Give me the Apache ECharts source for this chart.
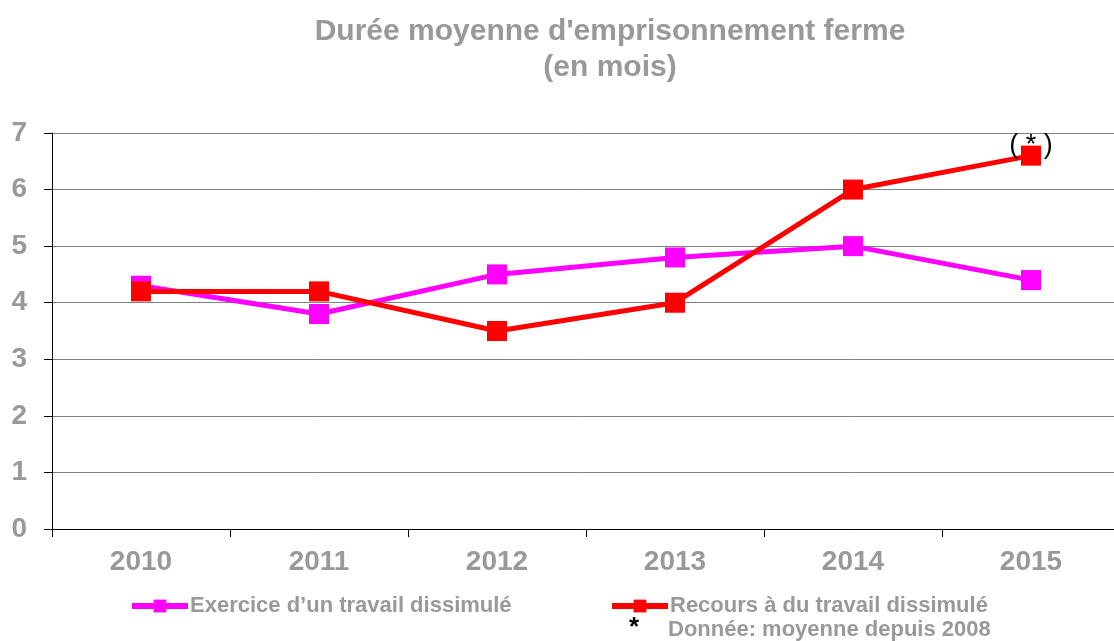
<!DOCTYPE html>
<html>
<head>
<meta charset="utf-8">
<script src="https://cdn.jsdelivr.net/npm/echarts@6/dist/echarts.min.js"></script>
<style>
  html, body { margin: 0; padding: 0; background: #fff; }
  #chart { width: 1114px; height: 641px; }
</style>
</head>
<body>
<div id="chart"></div>
<script>
// data
var years = ['2010', '2011', '2012', '2013', '2014', '2015'];
var exerciceValues = [4.3, 3.8, 4.5, 4.8, 5.0, 4.4];
var recoursValues = [4.2, 4.2, 3.5, 4.0, 6.0, 6.6];
var yTicks = [0, 1, 2, 3, 4, 5, 6, 7];

var grey = '#999999';
var font = 'Liberation Sans, Arial, sans-serif';

var dom = document.getElementById('chart');
var myChart = echarts.init(dom, null, { renderer: 'canvas' });

// last red point carries the "(*)" note
var recoursData = recoursValues.map(function (v, i) {
  if (i === recoursValues.length - 1) {
    return {
      value: v,
      label: {
        show: true,
        position: 'inside',
        offset: [0, -10],
        formatter: '( * )',
        color: '#000',
        fontSize: 27,
        fontFamily: font
      }
    };
  }
  return v;
});

var legendText = { color: grey, fontSize: 22, fontWeight: 'bold', fontFamily: font, padding: [0, 0, 0, -3] };

var option = {
  animation: false,
  title: {
    text: "Durée moyenne d'emprisonnement ferme\n(en mois)",
    left: 605,
    textAlign: 'center',
    top: 9,
    textStyle: {
      color: grey,
      fontSize: 30,
      fontWeight: 'bold',
      fontFamily: font,
      lineHeight: 36
    }
  },
  legend: [
    {
      left: 124,
      top: 590,
      data: ['Exercice d\u2019un travail dissimulé'],
      itemWidth: 56,
      itemHeight: 16,
      itemGap: 4,
      lineStyle: { width: 6 },
      textStyle: legendText
    },
    {
      left: 604,
      top: 590,
      data: ['Recours à du travail dissimulé'],
      itemWidth: 56,
      itemHeight: 16,
      itemGap: 4,
      lineStyle: { width: 6 },
      textStyle: legendText
    }
  ],
  graphic: [
    {
      type: 'text',
      left: 629,
      top: 615,
      style: { text: '*', fill: '#000', fontSize: 26, fontWeight: 'bold', fontFamily: font }
    },
    {
      type: 'text',
      left: 668,
      top: 619,
      style: { text: 'Donnée: moyenne depuis 2008', fill: grey, fontSize: 22, fontWeight: 'bold', fontFamily: font }
    }
  ],
  grid: {
    left: 52,
    top: 133,
    width: 1068,
    height: 396,
    outerBoundsMode: 'none'
  },
  xAxis: {
    type: 'category',
    data: years,
    boundaryGap: true,
    axisLine: { lineStyle: { color: '#000', width: 1 } },
    axisTick: { show: true, length: 8, lineStyle: { color: '#000' } },
    axisLabel: {
      color: grey,
      fontSize: 28,
      fontWeight: 'bold',
      fontFamily: font,
      margin: 19
    }
  },
  yAxis: {
    type: 'value',
    min: yTicks[0],
    max: yTicks[yTicks.length - 1],
    interval: 1,
    axisLine: { show: true, lineStyle: { color: '#000', width: 1 } },
    axisTick: { show: true, length: 8, lineStyle: { color: '#000' } },
    axisLabel: {
      color: grey,
      fontSize: 28,
      fontWeight: 'bold',
      fontFamily: font,
      margin: 25
    },
    splitLine: { show: true, lineStyle: { color: '#808080', width: 1 } }
  },
  series: [
    {
      name: 'Exercice d\u2019un travail dissimulé',
      type: 'line',
      data: exerciceValues,
      symbol: 'rect',
      symbolSize: 20,
      color: '#ff00ff',
      lineStyle: { width: 5, color: '#ff00ff' },
      itemStyle: { color: '#ff00ff' },
      z: 2
    },
    {
      name: 'Recours à du travail dissimulé',
      type: 'line',
      data: recoursData,
      symbol: 'rect',
      symbolSize: 20,
      color: '#ff0000',
      lineStyle: { width: 5, color: '#ff0000' },
      itemStyle: { color: '#ff0000' },
      z: 3
    }
  ]
};

myChart.setOption(option);
window.addEventListener('resize', myChart.resize);
</script>
</body>
</html>
